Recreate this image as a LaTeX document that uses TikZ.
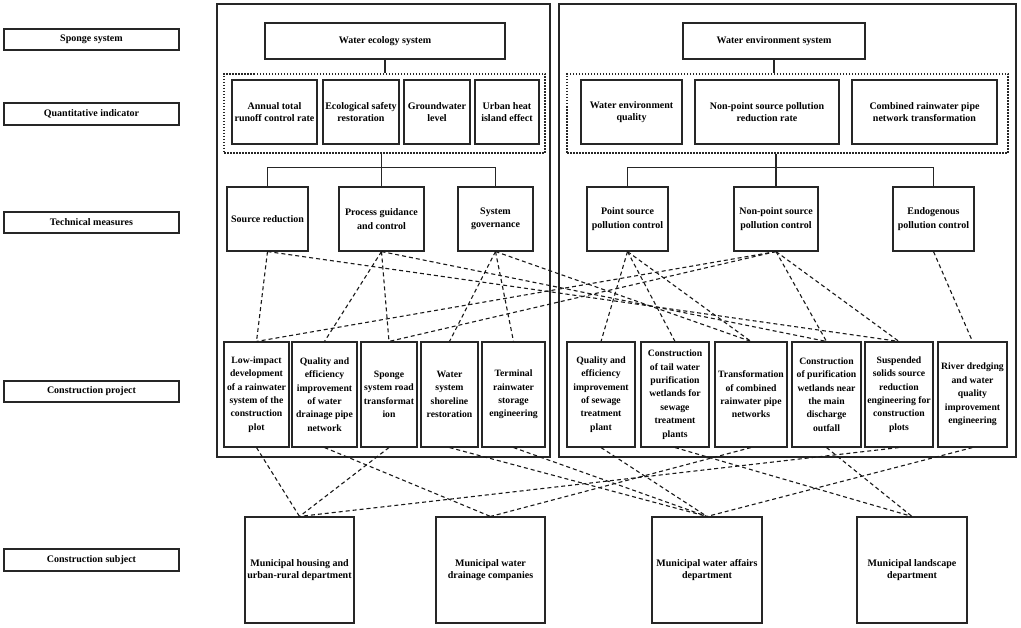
\documentclass[tikz,border=0pt]{standalone}
\usepackage{fontspec}
\setmainfont{Liberation Serif}
\newcommand\bx[7][]{%
  \pgfmathsetmacro\bxw{#5-#3}\pgfmathsetmacro\bxh{#6-#4}%
  \node[box,#1,minimum width=\bxw pt,minimum height=\bxh pt] (#2) at ({(#3+#5)/2},{(#4+#6)/2}) {#7};}
\begin{document}
\begin{tikzpicture}[x=1pt,y=-1pt,
  box/.style={draw=black!85, line width=1.1pt, inner sep=0pt, align=center,
    font=\fontsize{10}{12}\selectfont\bfseries},
  tech/.style={font=\fontsize{10}{13.5}\selectfont\bfseries},
  proj/.style={font=\fontsize{9.7}{13.4}\selectfont\bfseries},
  dotbox/.style={draw=black!85, line width=1.1pt, dash pattern=on 1.5pt off 1.5pt},
  frame/.style={draw=black!85, line width=1.1pt},
  tree/.style={draw=black!85, line width=1.1pt},
  link/.style={draw=black!90, line width=1.1pt, dash pattern=on 4pt off 3pt}]
\useasboundingbox (0,0) rectangle (1021,628);
\fill[white] (0,0) rectangle (1021,628);
% frames
\draw[frame] (217,4) rectangle (550,457);
\draw[frame] (559,4) rectangle (1016,457);
% row labels
\bx{lab1}{4}{29}{179}{50}{Sponge system}
\bx{lab2}{4}{103}{179}{125}{Quantitative indicator}
\bx{lab3}{4}{212}{179}{233}{Technical measures}
\bx{lab4}{4}{381}{179}{402}{Construction project}
\bx{lab5}{4}{549}{179}{571}{Construction subject}
% left system
\bx{wes}{265}{23}{505}{59}{Water ecology system}
\bx[dotbox]{dotL}{224}{74}{545}{153}{}
\bx{i1}{232}{80}{317}{144}{Annual total\\runoff control rate}
\bx{i2}{323}{80}{399}{144}{Ecological safety\\restoration}
\bx{i3}{404}{80}{470}{144}{Groundwater\\level}
\bx{i4}{475}{80}{539}{144}{Urban heat\\island effect}
\bx[tech]{t1}{227}{187}{308}{251}{Source reduction}
\bx[tech]{t2}{339}{187}{424}{251}{Process guidance\\and control}
\bx[tech]{t3}{458}{187}{533}{251}{System\\governance}
\bx[proj]{p1}{224}{342}{289}{447}{Low-impact\\development\\of a rainwater\\system of the\\construction\\plot}
\bx[proj]{p2}{292}{342}{357}{447}{Quality and\\efficiency\\improvement\\of water\\drainage pipe\\network}
\bx[proj]{p3}{361}{342}{417}{447}{Sponge\\system road\\transformat\\ion}
\bx[proj]{p4}{421}{342}{478}{447}{Water\\system\\shoreline\\restoration}
\bx[proj]{p5}{482}{342}{545}{447}{Terminal\\rainwater\\storage\\engineering}
% right system
\bx{wns}{683}{23}{865}{59}{Water environment system}
\bx[dotbox]{dotR}{567}{74}{1008}{153}{}
\bx{i5}{581}{80}{682}{144}{Water environment\\quality}
\bx{i6}{695}{80}{839}{144}{Non-point source pollution\\reduction rate}
\bx{i7}{852}{80}{997}{144}{Combined rainwater pipe\\network transformation}
\bx[tech]{t4}{587}{187}{668}{251}{Point source\\pollution control}
\bx[tech]{t5}{734}{187}{818}{251}{Non-point source\\pollution control}
\bx[tech]{t6}{893}{187}{974}{251}{Endogenous\\pollution control}
\bx[proj]{p6}{567}{342}{635}{447}{Quality and\\efficiency\\improvement\\of sewage\\treatment\\plant}
\bx[proj]{p7}{641}{342}{709}{447}{Construction\\of tail water\\purification\\wetlands for\\sewage\\treatment\\plants}
\bx[proj]{p8}{715}{342}{787}{447}{Transformation\\of combined\\rainwater pipe\\networks}
\bx[proj]{p9}{792}{342}{861}{447}{Construction\\of purification\\wetlands near\\the main\\discharge\\outfall}
\bx[proj]{p10}{865}{342}{933}{447}{Suspended\\solids source\\reduction\\engineering for\\construction\\plots}
\bx[proj]{p11}{938}{342}{1007}{447}{River dredging\\and water\\quality\\improvement\\engineering}
% subjects
\bx{s1}{245}{517}{354}{623}{Municipal housing and\\urban-rural department}
\bx{s2}{436}{517}{545}{623}{Municipal water\\drainage companies}
\bx{s3}{652}{517}{762}{623}{Municipal water affairs\\department}
\bx{s4}{857}{517}{967}{623}{Municipal landscape\\department}
% tree connectors
\draw[tree] (wes.south) -- (wes.south |- dotL.north);
\draw[tree] (t2.north |- dotL.south) -- (t2.north);
\draw[tree] (t1.north) -- ++(0,-19) -| (t3.north);
\draw[tree] (wns.south) -- (wns.south |- dotR.north);
\draw[tree] (t5.north |- dotR.south) -- (t5.north);
\draw[tree] (t4.north) -- ++(0,-19) -| (t6.north);
% measures to projects
\foreach \a/\b in {t1/p1,t1/p10,t2/p2,t2/p3,t2/p9,t3/p4,t3/p5,t3/p8,
  t4/p6,t4/p7,t4/p8,t5/p1,t5/p3,t5/p9,t5/p10,t6/p11}
  \draw[link] (\a.south) -- (\b.north);
% projects to subjects
\foreach \a/\b in {p1/s1,p3/s1,p10/s1,p2/s2,p8/s2,p4/s3,p5/s3,p6/s3,p11/s3,p7/s4,p9/s4}
  \draw[link] (\a.south) -- (\b.north);
\end{tikzpicture}
\end{document}
